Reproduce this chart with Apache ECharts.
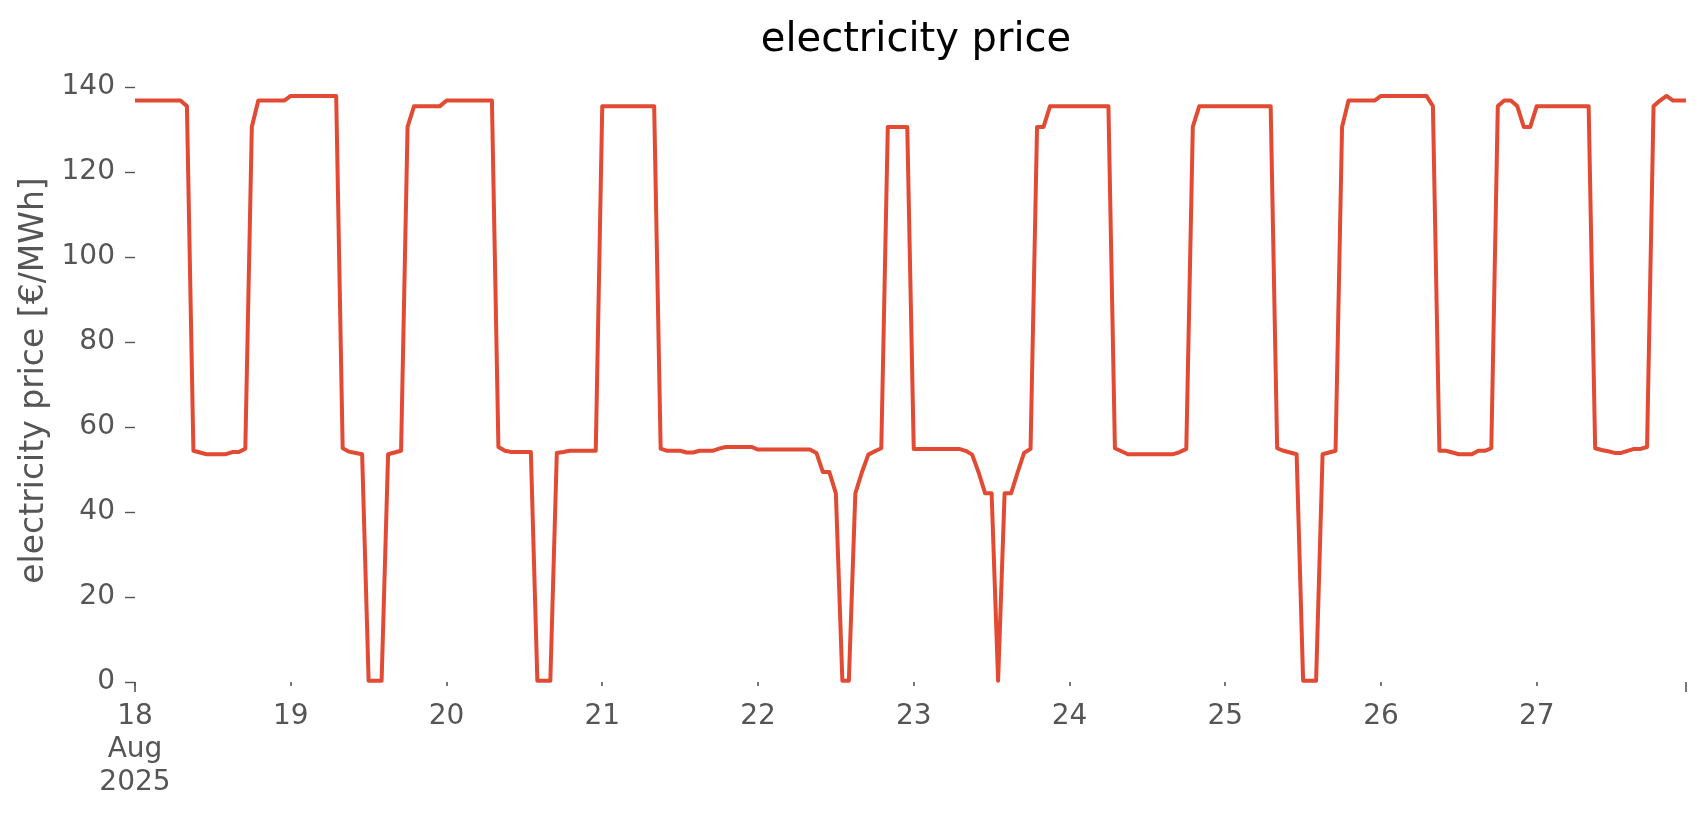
<!DOCTYPE html>
<html>
<head>
<meta charset="utf-8">
<title>electricity price</title>
<script src="https://cdn.jsdelivr.net/npm/echarts@6/dist/echarts.min.js"></script>
<style>
html, body { margin: 0; padding: 0; background: #fff; }
#main { width: 1706px; height: 815px; }
</style>
</head>
<body>
<div id="main"></div>
<script>
// hourly prices, one list per day (18 - 27 Aug 2025)
var dates = ['2025-08-18', '2025-08-19', '2025-08-20', '2025-08-21', '2025-08-22',
             '2025-08-23', '2025-08-24', '2025-08-25', '2025-08-26', '2025-08-27'];
var dayLabels = ['18\nAug\n2025', '19', '20', '21', '22', '23', '24', '25', '26', '27'];

var day18 = [136.8, 136.8, 136.8, 136.8, 136.8, 136.8, 136.8, 136.8, 135.5, 54.4, 54.0, 53.6,
             53.6, 53.6, 53.6, 54.1, 54.1, 54.9, 130.6, 136.8, 136.8, 136.8, 136.8, 136.8];
var day19 = [137.9, 137.9, 137.9, 137.9, 137.9, 137.9, 137.9, 137.9, 55.0, 54.2, 53.9, 53.6,
             0.3, 0.3, 0.3, 53.6, 54.0, 54.4, 130.6, 135.5, 135.5, 135.5, 135.5, 135.5];
var day20 = [136.8, 136.8, 136.8, 136.8, 136.8, 136.8, 136.8, 136.8, 55.3, 54.4, 54.1, 54.1,
             54.1, 54.1, 0.3, 0.3, 0.3, 53.9, 54.1, 54.4, 54.4, 54.4, 54.4, 54.4];
var day21 = [135.5, 135.5, 135.5, 135.5, 135.5, 135.5, 135.5, 135.5, 135.5, 54.9, 54.4, 54.4,
             54.4, 54.0, 54.0, 54.4, 54.4, 54.4, 54.9, 55.3, 55.3, 55.3, 55.3, 55.3];
var day22 = [54.7, 54.7, 54.7, 54.7, 54.7, 54.7, 54.7, 54.7, 54.7, 53.9, 49.4, 49.4,
             44.4, 0.3, 0.3, 44.4, 49.3, 53.5, 54.3, 55.0, 130.6, 130.6, 130.6, 130.6];
var day23 = [54.85, 54.85, 54.85, 54.85, 54.85, 54.85, 54.85, 54.85, 54.4, 53.5, 49.3, 44.4,
             44.4, 0.3, 44.4, 44.4, 49.3, 53.9, 54.85, 130.6, 130.6, 135.5, 135.5, 135.5];
var day24 = [135.5, 135.5, 135.5, 135.5, 135.5, 135.5, 135.5, 55.0, 54.3, 53.6, 53.6, 53.6,
             53.6, 53.6, 53.6, 53.6, 53.6, 54.1, 54.85, 130.6, 135.5, 135.5, 135.5, 135.5];
var day25 = [135.5, 135.5, 135.5, 135.5, 135.5, 135.5, 135.5, 135.5, 55.0, 54.4, 54.0, 53.6,
             0.3, 0.3, 0.3, 53.6, 54.0, 54.4, 130.6, 136.8, 136.8, 136.8, 136.8, 136.8];
var day26 = [137.9, 137.9, 137.9, 137.9, 137.9, 137.9, 137.9, 137.9, 135.5, 54.4, 54.4, 54.0,
             53.6, 53.6, 53.6, 54.4, 54.4, 55.0, 135.5, 136.8, 136.8, 135.5, 130.6, 130.6];
var day27 = [135.5, 135.5, 135.5, 135.5, 135.5, 135.5, 135.5, 135.5, 135.5, 55.0, 54.6, 54.3,
             53.9, 53.9, 54.4, 54.85, 54.85, 55.3, 135.5, 136.8, 137.9, 136.8, 136.8, 136.8];

var days = [day18, day19, day20, day21, day22, day23, day24, day25, day26, day27];

// build category axis (one entry per hour) and flat value list
var hours = [];
var prices = [];
for (var d = 0; d < days.length; d++) {
    for (var h = 0; h < days[d].length; h++) {
        hours.push(dates[d] + ' ' + (h < 10 ? '0' + h : h) + ':00');
        prices.push(days[d][h]);
    }
}
var lastIdx = hours.length - 1;

var chart = echarts.init(document.getElementById('main'));
var txt = '#555555';
var font = 'DejaVu Sans';
var gridBox = { left: 135, right: 20, top: 87, bottom: 133 };

var option = {
    animation: false,
    backgroundColor: '#ffffff',
    title: {
        text: 'electricity price',
        left: 911,
        textAlign: 'center',
        top: 16,
        textStyle: {
            fontFamily: font,
            fontSize: 40,
            fontWeight: 'normal',
            color: '#000000'
        }
    },
    // second grid only carries the longer end ticks of the time axis
    grid: [gridBox, gridBox],
    xAxis: [{
        type: 'category',
        gridIndex: 0,
        data: hours,
        boundaryGap: false,
        axisLine: { show: false },
        axisTick: {
            show: true,
            length: 4,
            interval: function (idx) { return idx % 24 === 0; },
            lineStyle: { color: txt, width: 1.6 }
        },
        axisLabel: {
            interval: function (idx) { return idx % 24 === 0; },
            formatter: function (val, idx) { return dayLabels[Math.floor(idx / 24)]; },
            color: txt,
            fontFamily: font,
            fontSize: 28,
            lineHeight: 33,
            margin: 18
        },
        splitLine: { show: false }
    }, {
        type: 'category',
        gridIndex: 1,
        data: hours,
        boundaryGap: false,
        axisLine: { show: false },
        axisTick: {
            show: true,
            length: 10,
            interval: function (idx) { return idx === 0 || idx === lastIdx; },
            lineStyle: { color: txt, width: 1.6 }
        },
        axisLabel: { show: false },
        splitLine: { show: false }
    }],
    yAxis: [{
        type: 'value',
        gridIndex: 0,
        min: 0,
        max: 140,
        interval: 20,
        name: 'electricity price [€/MWh]',
        nameLocation: 'middle',
        nameGap: 77,
        nameTextStyle: {
            fontFamily: font,
            fontSize: 33,
            color: txt,
            padding: [0, 0, 0, 8]
        },
        axisLine: { show: false },
        axisTick: {
            show: true,
            length: 10,
            lineStyle: { color: txt, width: 1.4 }
        },
        axisLabel: {
            color: txt,
            fontFamily: font,
            fontSize: 28,
            margin: 20
        },
        splitLine: { show: false }
    }, {
        type: 'value',
        gridIndex: 1,
        min: 0,
        max: 140,
        show: false
    }],
    series: [{
        name: 'electricity price',
        type: 'line',
        xAxisIndex: 0,
        yAxisIndex: 0,
        data: prices,
        showSymbol: false,
        symbol: 'none',
        lineStyle: { color: '#E24A33', width: 4, join: 'round' },
        itemStyle: { color: '#E24A33' }
    }]
};
option && chart.setOption(option);
</script>
</body>
</html>
